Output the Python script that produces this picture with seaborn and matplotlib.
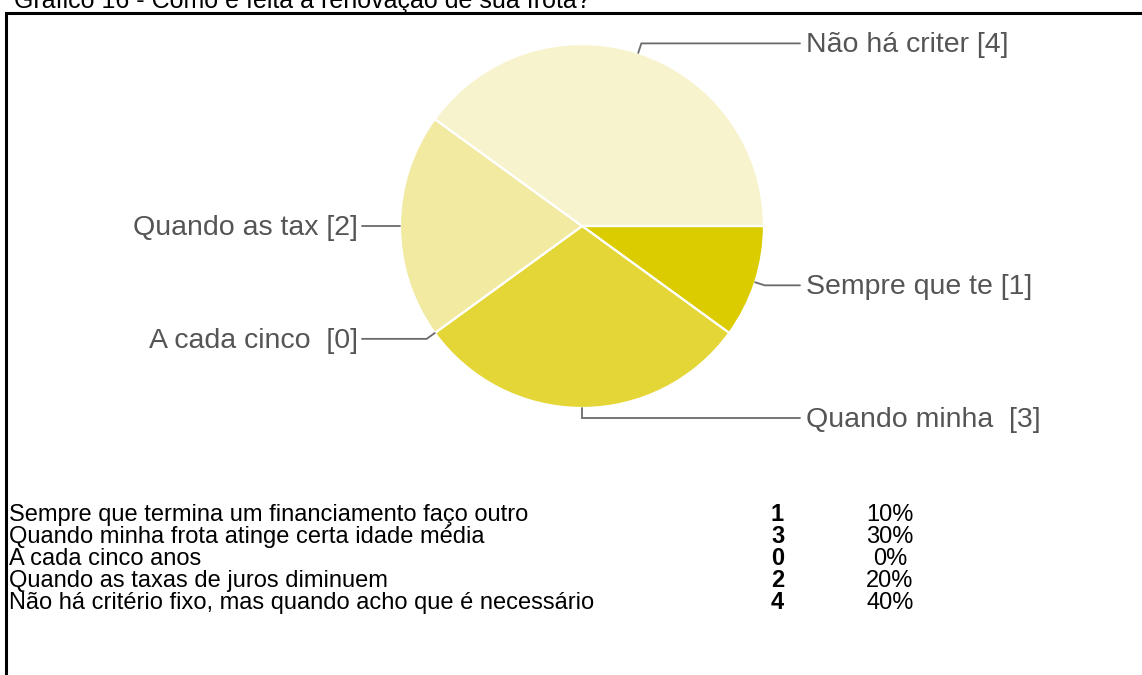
import numpy as np
import matplotlib
matplotlib.use("Agg")
import matplotlib.pyplot as plt
import seaborn as sns

# data
answers = [
    "Sempre que termina um financiamento faço outro",
    "Quando minha frota atinge certa idade média",
    "A cada cinco anos",
    "Quando as taxas de juros diminuem",
    "Não há critério fixo, mas quando acho que é necessário",
]
short_labels = ["Sempre que te", "Quando minha ", "A cada cinco ", "Quando as tax", "Não há criter"]
counts = [1, 3, 0, 2, 4]
colors = ["#dbcc00", "#e3d636", "#eadf6a", "#f1eaa0", "#f7f4cd"]
title = "Gráfico 16 - Como é feita a renovação de sua frota?"

sns.set_theme(style="white")
plt.rcParams["font.family"] = ["Liberation Sans", "DejaVu Sans"]

W, H = 1142, 675
fig = plt.figure(figsize=(W / 100, H / 100), dpi=100)
ax = fig.add_axes([0, 0, 1, 1])


def Y(p):
    return H - p


cx, cy, r = 582, Y(226), 182
wedges, _ = ax.pie(counts, colors=colors, startangle=0, counterclock=False,
                   center=(cx, cy), radius=r,
                   wedgeprops=dict(edgecolor="white", linewidth=1.6))
ax.set_xlim(0, W)
ax.set_ylim(0, H)
ax.set_aspect("equal")
ax.axis("off")

# leader lines + labels
for w, lab, n in zip(wedges, short_labels, counts):
    mid = np.deg2rad((w.theta1 + w.theta2) / 2)
    x0, y0 = cx + r * np.cos(mid), cy + r * np.sin(mid)
    x1, y1 = cx + (r + 10) * np.cos(mid), cy + (r + 10) * np.sin(mid)
    if abs(np.cos(mid)) < 0.01 or np.cos(mid) > 0:
        xe, tx, ha = 800, 806, "left"
    else:
        xe, tx, ha = 362, 358, "right"
    if abs(np.cos(mid) + 1) < 1e-6:
        y1 = y0
    ax.plot([x0, x1, xe], [y0, y1, y1], color="#6a6a6a", lw=1.3,
            solid_joinstyle="miter")
    ax.text(tx, y1 - 2, f"{lab} [{n}]", ha=ha, va="center",
            fontsize=20.5, color="#555555")

# border and title
ax.plot([6, 6, W + 5], [0, Y(13), Y(13)], color="black", lw=2.2,
        solid_joinstyle="miter", clip_on=False)
ax.text(14, Y(8), title, fontsize=18, color="black", va="baseline", ha="left")

# table
total = sum(counts)
for i, (a, n) in enumerate(zip(answers, counts)):
    yb = Y(521 + i * 22)
    ax.text(9, yb, a, fontsize=17, color="black", va="baseline", ha="left")
    ax.text(771, yb, str(n), fontsize=17, fontweight="bold", color="black",
            va="baseline", ha="left")
    ax.text(890, yb, f"{round(100 * n / total)}%", fontsize=17,
            color="black", va="baseline", ha="center")

fig.savefig("out.png", dpi=100)
